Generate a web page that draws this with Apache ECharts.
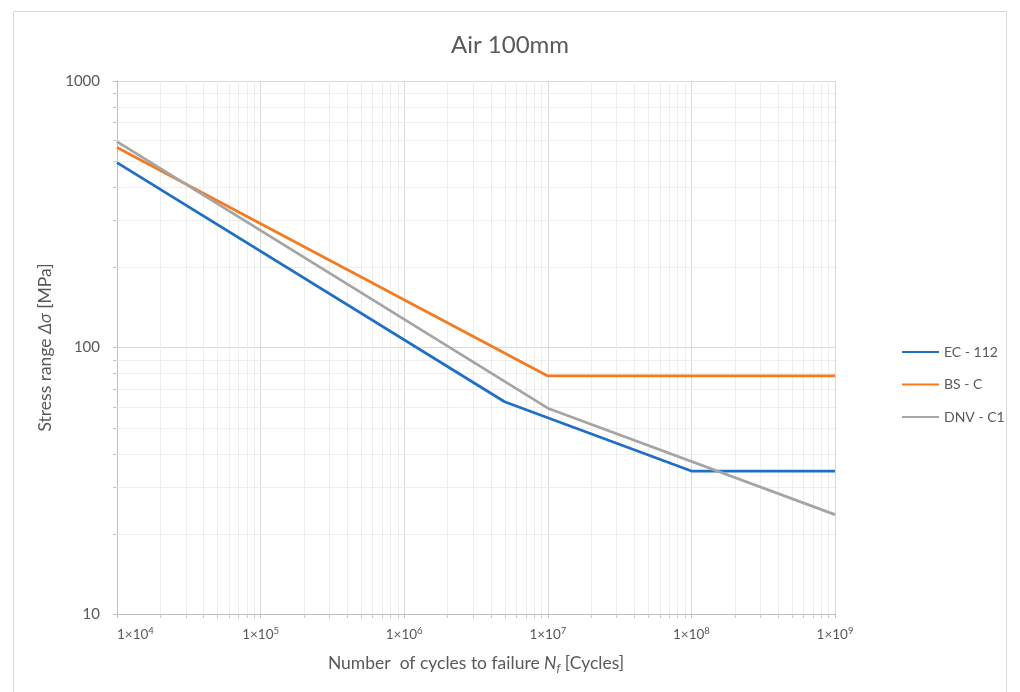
<!DOCTYPE html>
<html><head><meta charset="utf-8">
<script src="https://cdn.jsdelivr.net/npm/echarts@6/dist/echarts.min.js"></script>
<style>html,body{margin:0;padding:0;background:#fff}#c{width:1020px;height:692px}</style>
</head><body><div id="c"></div>
<script>
// ---- data ----
const seriesNames = ['EC - 112', 'BS - C', 'DNV - C1'];
const ecCycles = [1e4, 5e6, 1e8, 1e9];
const ecStress = [494, 62.6, 34.4, 34.4];
const bsCycles = [1e4, 1e7, 1e9];
const bsStress = [563, 78.2, 78.2];
const dnvCycles = [1e4, 1e7, 1e9];
const dnvStress = [592, 59.2, 23.6];
const xTickExponents = [4, 5, 6, 7, 8, 9];
const yTickLabels = ['10', '100', '1000'];
const colors = ['#1F6FC6', '#F47B20', '#A5A5A5'];

// minor tick values (2..9 within each decade)
const xMinor = [];
for (let d = 4; d < 9; d++) for (let k = 2; k <= 9; k++) xMinor.push([k * Math.pow(10, d), 10]);
const yMinor = [];
for (let d = 1; d < 3; d++) for (let k = 2; k <= 9; k++) yMinor.push([1e4, k * Math.pow(10, d)]);

const txt = '#595959';
const font = 'Lato, "Open Sans", sans-serif';

function pair(xs, ys) { return xs.map((x, i) => [x, ys[i]]); }

function minorXRender(params, api) {
  const cs = params.coordSys;
  const x = Math.round(api.coord([api.value(0), 10])[0]) + 0.5;
  const b = cs.y + cs.height;
  return { type: 'group', children: [
    { type: 'line', shape: { x1: x, y1: cs.y, x2: x, y2: b }, style: { stroke: '#eeeeee', lineWidth: 1 } },
    { type: 'line', shape: { x1: x, y1: b, x2: x, y2: b + 4 }, style: { stroke: '#c8c8c8', lineWidth: 1 } }
  ]};
}
function minorYRender(params, api) {
  const cs = params.coordSys;
  const y = Math.round(api.coord([1e4, api.value(1)])[1]) + 0.5;
  return { type: 'group', children: [
    { type: 'line', shape: { x1: cs.x, y1: y, x2: cs.x + cs.width, y2: y }, style: { stroke: '#eeeeee', lineWidth: 1 } },
    { type: 'line', shape: { x1: cs.x - 4, y1: y, x2: cs.x, y2: y }, style: { stroke: '#c8c8c8', lineWidth: 1 } }
  ]};
}

const chart = echarts.init(document.getElementById('c'), null, { renderer: 'canvas' });
chart.setOption({
  animation: false,
  backgroundColor: '#fff',
  textStyle: { fontFamily: font },
  graphic: [{
    type: 'rect', shape: { x: 13.5, y: 11.5, width: 993, height: 690 },
    style: { fill: 'none', stroke: '#d9d9d9', lineWidth: 1 }, silent: true, z: -10
  }],
  title: {
    text: 'Air 100mm', left: 'center', top: 28,
    textStyle: { color: txt, fontSize: 24, fontWeight: 'normal', fontFamily: font }
  },
  legend: {
    data: seriesNames, orient: 'vertical', left: 897, top: 340,
    itemWidth: 37, itemHeight: 14, itemGap: 18.5,
    icon: 'path://M0,6 L37,6 L37,8 L0,8 Z',
    textStyle: { color: txt, fontSize: 14, fontFamily: font }
  },
  grid: { left: 117, right: 185, top: 81, bottom: 78, containLabel: false },
  xAxis: {
    type: 'log', logBase: 10, min: 1e4, max: 1e9,
    name: 'Number  of cycles to failure {i|N}{sub|f} [Cycles]',
    nameLocation: 'middle', nameGap: 39,
    nameTextStyle: {
      color: txt, fontSize: 17.5, fontFamily: font,
      rich: {
        i: { fontStyle: 'italic', fontSize: 17.5, color: txt, fontFamily: font },
        sub: { fontStyle: 'italic', fontSize: 12, color: txt, fontFamily: font, padding: [9, 0, 0, 0] }
      }
    },
    axisLine: { show: true, lineStyle: { color: '#bfbfbf', width: 1 } },
    axisTick: { show: true, length: 4, lineStyle: { color: '#bfbfbf' } },
    splitLine: { show: true, lineStyle: { color: '#d9d9d9', width: 1 } },
    axisLabel: {
      margin: 12, color: txt, alignMinLabel: 'left', alignMaxLabel: 'center',
      formatter: function (v) {
        const e = Math.round(Math.log10(v));
        const i = xTickExponents.indexOf(e);
        return '{a|1×10}{s|' + (i >= 0 ? xTickExponents[i] : e) + '}';
      },
      rich: {
        a: { fontSize: 13.5, color: txt, fontFamily: font },
        s: { fontSize: 9.5, color: txt, fontFamily: font, padding: [0, 0, 7, 0] }
      }
    }
  },
  yAxis: {
    type: 'log', logBase: 10, min: 10, max: 1000,
    name: 'Stress range {i|Δσ} [MPa]',
    nameLocation: 'middle', nameGap: 55,
    nameTextStyle: {
      color: txt, fontSize: 17.5, fontFamily: font,
      rich: { i: { fontStyle: 'italic', fontSize: 17.5, color: txt, fontFamily: font } }
    },
    axisLine: { show: true, lineStyle: { color: '#bfbfbf', width: 1 } },
    axisTick: { show: true, length: 4, lineStyle: { color: '#bfbfbf' } },
    splitLine: { show: true, lineStyle: { color: '#d9d9d9', width: 1 } },
    axisLabel: {
      margin: 17, color: txt, fontSize: 15, fontFamily: font,
      formatter: function (v) {
        const e = Math.round(Math.log10(v));
        return yTickLabels[e - 1] !== undefined ? yTickLabels[e - 1] : String(v);
      }
    }
  },
  series: [
    { type: 'custom', name: '_xminor', data: xMinor, renderItem: minorXRender, silent: true, z: 1, encode: { x: 0, y: 1 } },
    { type: 'custom', name: '_yminor', data: yMinor, renderItem: minorYRender, silent: true, z: 1, encode: { x: 0, y: 1 } },
    { type: 'line', name: seriesNames[0], data: pair(ecCycles, ecStress), symbol: 'none', color: colors[0], lineStyle: { width: 2.75, color: colors[0] }, z: 5 },
    { type: 'line', name: seriesNames[1], data: pair(bsCycles, bsStress), symbol: 'none', color: colors[1], lineStyle: { width: 2.75, color: colors[1] }, z: 5 },
    { type: 'line', name: seriesNames[2], data: pair(dnvCycles, dnvStress), symbol: 'none', color: colors[2], lineStyle: { width: 2.75, color: colors[2] }, z: 5 }
  ]
});
</script>
</body></html>
